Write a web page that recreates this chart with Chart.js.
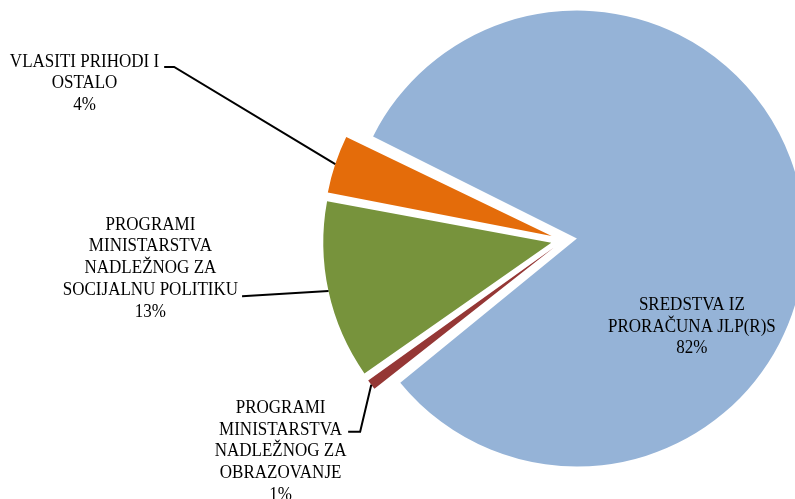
<!DOCTYPE html>
<html><head><meta charset="utf-8">
<script src="https://cdn.jsdelivr.net/npm/chart.js@4.4.1/dist/chart.umd.min.js"></script>
<style>html,body{margin:0;padding:0;background:#fff}canvas{display:block}</style>
</head><body>
<canvas id="c" width="795" height="499"></canvas>
<script>
const categories = [
  ['SREDSTVA IZ', 'PRORAČUNA JLP(R)S'],
  ['PROGRAMI', 'MINISTARSTVA', 'NADLEŽNOG ZA', 'OBRAZOVANJE'],
  ['PROGRAMI', 'MINISTARSTVA', 'NADLEŽNOG ZA', 'SOCIJALNU POLITIKU'],
  ['VLASITI PRIHODI I', 'OSTALO']
];
const shares = [82.0, 1.0, 12.7, 4.3];
const colors = ['#95B3D7', '#953735', '#77933C', '#E46C0A'];

// label layout (block centre x, first line y) in radius units from pie centre
const labelLayout = [
  {dx: 0.561, dy: 0.285, leader: null},
  {dx: -1.243, dy: 0.737, leader: {line: 1, dy: 2, gap: 6, elbow: 12}},
  {dx: -1.814, dy: -0.066, leader: {line: 3, dy: 6, gap: 4, elbow: 0}},
  {dx: -2.103, dy: -0.781, leader: {line: 0, dy: 5, gap: 5, elbow: 10}}
];
const FONT = '18px "Liberation Serif", "Times New Roman", serif';
const SX = 0.945;
const LINE_H = 21.8;

const fixRadius = {
  id: 'fixRadius',
  beforeDatasetsDraw(chart) {
    const meta = chart.getDatasetMeta(0);
    const R = meta.controller.outerRadius;
    meta.data.forEach(el => {
      const off = (el.options.offset || 0) / 4;
      const circ = el.endAngle - el.startAngle;
      const fix = 1 - Math.sin(Math.min(Math.PI, circ));
      el.outerRadius = R - off * fix;
    });
  }
};

const labelPlugin = {
  id: 'labels',
  afterDatasetsDraw(chart) {
    const ctx = chart.ctx;
    const meta = chart.getDatasetMeta(0);
    const R = meta.controller.outerRadius;
    meta.data.forEach((el, i) => {
      const lay = labelLayout[i];
      const cx = el.x + lay.dx * R;
      const y0 = el.y + lay.dy * R;
      const lines = categories[i].concat([Math.round(shares[i]) + '%']);
      ctx.save();
      ctx.font = FONT;
      ctx.fillStyle = '#000';
      ctx.textAlign = 'center';
      ctx.textBaseline = 'middle';
      ctx.translate(cx, 0);
      ctx.scale(SX, 1);
      lines.forEach((t, k) => ctx.fillText(t, 0, y0 + k * LINE_H));
      ctx.restore();
      if (lay.leader) {
        const L = lay.leader;
        ctx.save();
        ctx.font = FONT;
        const w = ctx.measureText(lines[L.line]).width * SX;
        const sx = cx + w / 2 + L.gap;
        const sy = y0 + L.line * LINE_H + L.dy;
        const h = (el.startAngle + el.endAngle) / 2;
        const off = (el.options.offset || 0) / 4;
        const ex = el.x + Math.cos(h) * (off + R);
        const ey = el.y + Math.sin(h) * (off + R);
        ctx.beginPath();
        ctx.strokeStyle = '#000';
        ctx.lineWidth = 2;
        ctx.moveTo(sx, sy);
        if (L.elbow) ctx.lineTo(sx + L.elbow, sy);
        ctx.lineTo(ex, ey);
        ctx.stroke();
        ctx.restore();
      }
    });
  }
};

new Chart(document.getElementById('c'), {
  type: 'pie',
  data: {
    labels: categories.map(l => l.join(' ')),
    datasets: [{
      data: shares,
      backgroundColor: colors,
      borderWidth: 0,
      offset: 52,
      hoverOffset: 0,
      clip: false
    }]
  },
  options: {
    responsive: false,
    animation: false,
    events: [],
    rotation: 296.1,
    radius: 228,
    layout: {padding: {left: 333, right: 0, top: 0, bottom: 19}},
    plugins: {legend: {display: false}, tooltip: {enabled: false}}
  },
  plugins: [fixRadius, labelPlugin]
});
</script>
</body></html>
